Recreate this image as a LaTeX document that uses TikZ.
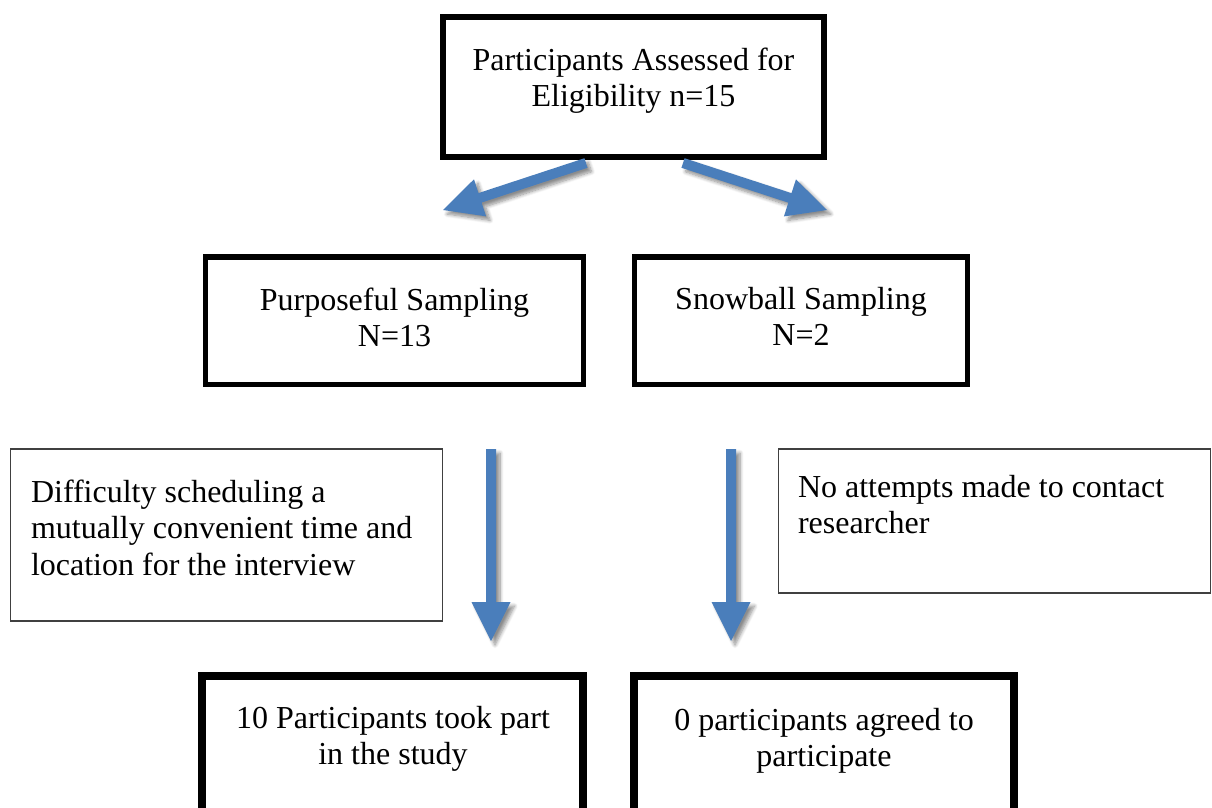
\documentclass[tikz,border=0pt]{standalone}
\usepackage{fontspec}
\setmainfont{Liberation Serif}
\usetikzlibrary{calc,shadows.blur}

\definecolor{arrowblue}{HTML}{4A7EBB}
\definecolor{noteline}{HTML}{404040}

\tikzset{
  boxbase/.style={rectangle, draw=black, fill=none, inner sep=0pt, outer sep=0pt},
  headbox/.style={boxbase, line width=6pt},
  samplebox/.style={boxbase, line width=5.5pt},
  resultbox/.style={boxbase, line width=8pt},
  notebox/.style={boxbase, draw=noteline, line width=1.3pt},
  boxtext/.style={inner sep=0pt, outer sep=0pt, anchor=north, align=center,
    font=\fontsize{32}{36.5}\selectfont},
  notetext/.style={boxtext, anchor=north west, align=left},
  arrowfill/.style={fill=arrowblue,
    blur shadow={shadow xshift=4pt, shadow yshift=-4pt, shadow opacity=45,
      shadow blur radius=3.5pt, shadow blur steps=8}},
}

% block arrow from a tail coordinate to a tip coordinate
\newcommand\blockarrow[2]{%
  \coordinate (hb) at ($(#2)!39pt!(#1)$);
  \fill[arrowfill] ($(#1)!5pt!90:(#2)$) -- ($(hb)!5pt!90:(#2)$)
    -- ($(hb)!19.5pt!90:(#2)$) -- (#2) -- ($(hb)!19.5pt!-90:(#2)$)
    -- ($(hb)!5pt!-90:(#2)$) -- ($(#1)!5pt!-90:(#2)$) -- cycle;
}

\begin{document}
\begin{tikzpicture}[x=1pt, y=-1pt]
  \useasboundingbox (0,0) rectangle (1212,807);
  \clip (0,0) rectangle (1212,807);

  % frames
  \node[headbox, minimum width=381pt, minimum height=140pt] (elig) at (633.5,87) {};
  \node[samplebox, minimum width=378pt, minimum height=127.5pt] (purp) at (394.5,320.75) {};
  \node[samplebox, minimum width=333pt, minimum height=127.5pt] (snow) at (801,320.75) {};
  \node[notebox, minimum width=432pt, minimum height=172pt] (diff) at (226.5,535) {};
  \node[notebox, minimum width=432pt, minimum height=144pt] (noatt) at (994.5,521) {};
  \node[resultbox, minimum width=381pt, minimum height=200pt] (took) at (392.5,776) {};
  \node[resultbox, minimum width=380pt, minimum height=200pt] (zero) at (824,776) {};

  % texts
  \node[boxtext] (eligT) at (633.5,44.5) {\strut Participants Assessed for\\Eligibility n=15};
  \node[boxtext] (purpT) at (394.5,284.5) {\strut Purposeful Sampling\\N=13};
  \node[boxtext] (snowT) at (801,283.5) {\strut Snowball Sampling\\N=2};
  \node[notetext] (diffT) at (31,476.5) {\strut Difficulty scheduling a\\mutually convenient time and\\location for the interview};
  \node[notetext] (noattT) at (798,471.5) {\strut No attempts made to contact\\researcher};
  \node[boxtext] (tookT) at (393,702.5) {\strut 10 Participants took part\\in the study};
  \node[boxtext] (zeroT) at (824,704.5) {\strut 0 participants agreed to\\participate};

  % arrow ends
  \coordinate (aLtail) at (586,163);
  \coordinate (aLtip)  at (443,210);
  \coordinate (aRtail) at (683,163);
  \coordinate (aRtip)  at (827,210);
  \coordinate (dLtail) at (491,449);
  \coordinate (dLtip)  at (491,641);
  \coordinate (dRtail) at (731,449);
  \coordinate (dRtip)  at (731,641);

  \blockarrow{aLtail}{aLtip}
  \blockarrow{aRtail}{aRtip}
  \blockarrow{dLtail}{dLtip}
  \blockarrow{dRtail}{dRtip}
\end{tikzpicture}
\end{document}
